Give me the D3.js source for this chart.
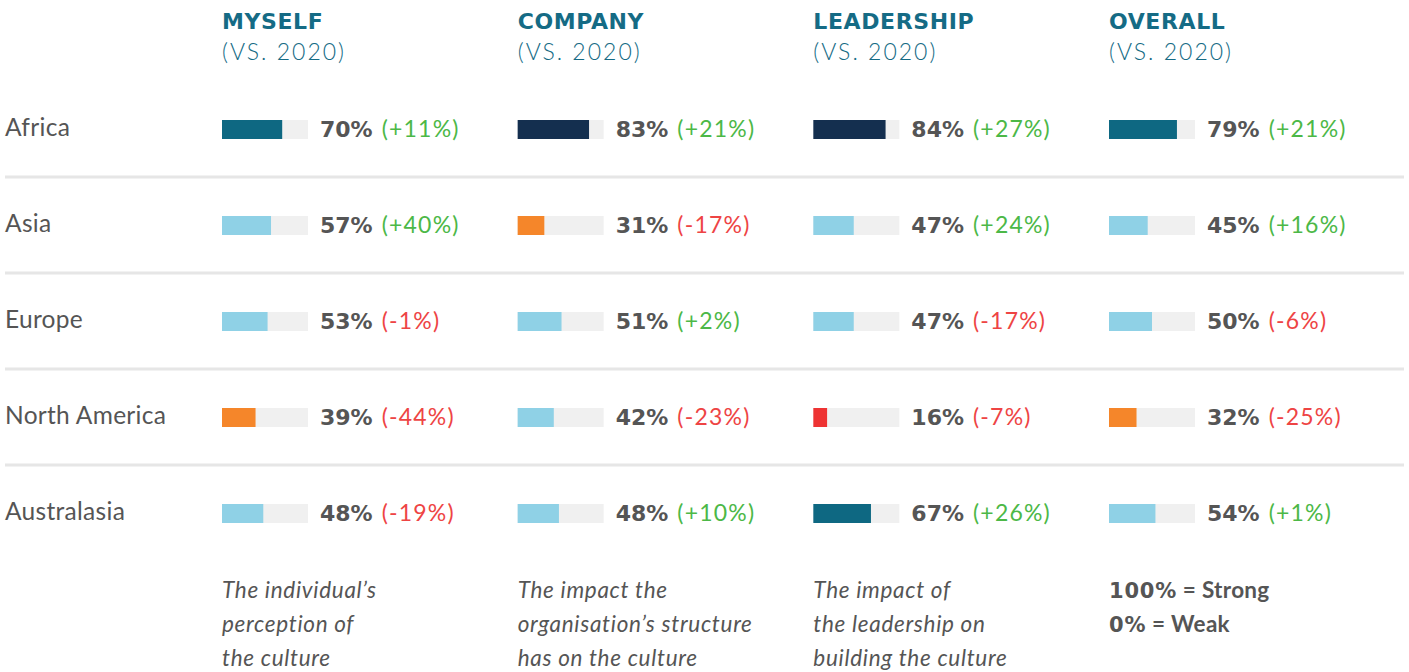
<!DOCTYPE html>
<html><head><meta charset="utf-8">
<script src="https://cdn.jsdelivr.net/npm/d3@7"></script>
<style>
html,body{margin:0;padding:0;background:#fff;}
svg{display:block;font-family:Lato,"Open Sans",sans-serif;}
</style></head>
<body>
<svg id="chart" width="1409" height="672"></svg>
<script>
const regions = ["Africa","Asia","Europe","North America","Australasia"];
const columns = ["MYSELF","COMPANY","LEADERSHIP","OVERALL"];
const subTitle = "(VS. 2020)";
const myselfValues = [70,57,53,39,48];
const myselfChange = [11,40,-1,-44,-19];
const companyValues = [83,31,51,42,48];
const companyChange = [21,-17,2,-23,10];
const leadershipValues = [84,47,47,16,67];
const leadershipChange = [27,24,-17,-7,26];
const overallValues = [79,45,50,32,54];
const overallChange = [21,16,-6,-25,1];
const footnotes = [
  ["The individual\u2019s","perception of","the culture"],
  ["The impact the","organisation\u2019s structure","has on the culture"],
  ["The impact of","the leadership on","building the culture"]
];
const legendLines = [["100%"," = Strong"],["0%"," = Weak"]];

const values = [myselfValues, companyValues, leadershipValues, overallValues];
const changes = [myselfChange, companyChange, leadershipChange, overallChange];

const heavy = "'DejaVu Sans', sans-serif";
const svg = d3.select("#chart");
const colX = d3.scaleLinear().domain([0,3]).range([222,1109]);
const rowY = d3.scalePoint().domain(regions).range([129.5, 513.5]);
const barW = d3.scaleLinear().domain([0,100]).range([0,86]);
const barH = 19;

function barColor(v){
  if (v >= 80) return "#142f4f";
  if (v >= 60) return "#0e6882";
  if (v >= 40) return "#8fd1e6";
  if (v >= 20) return "#f5862a";
  return "#ee3333";
}

// Headers
columns.forEach((c,i)=>{
  svg.append("text").attr("x", colX(i)).attr("y", 29)
    .attr("font-family", heavy)
    .attr("font-size", 22).attr("font-weight", 700).attr("letter-spacing", 0.6)
    .attr("fill", "#156b85").text(c);
  svg.append("text").attr("x", colX(i)).attr("y", 60)
    .attr("font-size", 23).attr("font-weight", 300).attr("letter-spacing", 2)
    .attr("fill", "#156b85").text(subTitle);
});

// separators
regions.slice(0,-1).forEach((r)=>{
  svg.append("rect").attr("x",5).attr("y", rowY(r)+46).attr("width", 1399).attr("height", 3)
    .attr("fill", "#e6e6e6");
});

// region labels
regions.forEach(r=>{
  svg.append("text").attr("x", 5).attr("y", rowY(r)+6.5)
    .attr("font-size", 24.5).attr("letter-spacing", 0.3).attr("fill", "#555").text(r);
});

// bars and labels
columns.forEach((c,i)=>{
  regions.forEach((r,j)=>{
    const v = values[i][j], ch = changes[i][j];
    const x0 = colX(i), yc = rowY(r);
    svg.append("rect").attr("x", x0).attr("y", yc - barH/2).attr("width", barW(100)).attr("height", barH)
      .attr("fill", "#f0f0f0");
    svg.append("rect").attr("x", x0).attr("y", yc - barH/2).attr("width", barW(v)).attr("height", barH)
      .attr("fill", barColor(v));
    const t = svg.append("text").attr("x", x0 + 98).attr("y", yc + 7)
      .attr("font-family", heavy)
      .attr("font-size", 22).attr("font-weight", 700)
      .attr("fill", "#555").text(v + "%");
    const w = t.node().getComputedTextLength();
    svg.append("text").attr("x", x0 + 98 + w + 9).attr("y", yc + 7)
      .attr("font-size", 23).attr("font-weight", 400).attr("letter-spacing", 1.2)
      .attr("fill", ch >= 0 ? "#4cb847" : "#ee4444")
      .text("(" + (ch >= 0 ? "+" : "-") + Math.abs(ch) + "%)");
  });
});

// footnotes
footnotes.forEach((lines,i)=>{
  lines.forEach((l,k)=>{
    svg.append("text").attr("x", colX(i)).attr("y", 598 + k*34)
      .attr("font-size", 22.5).attr("letter-spacing", 0.7)
      .attr("font-style", "italic").attr("fill", "#555").text(l);
  });
});
legendLines.forEach((l,k)=>{
  const t = svg.append("text").attr("x", colX(3)).attr("y", 598 + k*34)
    .attr("font-size", 22.5).attr("fill", "#555");
  t.append("tspan").attr("font-family", heavy).attr("font-size", 21)
    .attr("font-weight", 700).attr("letter-spacing", 0.8).text(l[0]);
  t.append("tspan").attr("font-weight", 700).attr("letter-spacing", 0.3).text(l[1]);
});
</script>
</body></html>
